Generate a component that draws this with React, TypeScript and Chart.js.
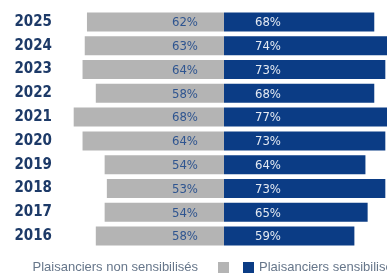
import React, { useEffect, useRef } from "react";
import { Chart, registerables } from "chart.js";

Chart.register(...registerables);

const years = ["2025", "2024", "2023", "2022", "2021", "2020", "2019", "2018", "2017", "2016"];
const nonSensibilises = [62, 63, 64, 58, 68, 64, 54, 53, 54, 58];
const sensibilises = [68, 74, 73, 68, 77, 73, 64, 73, 65, 59];
const legendLabels = ["Plaisanciers non sensibilisés", "Plaisanciers sensibilisés"];

const GRAY = "#b4b4b4";
const NAVY = "#0b3c85";
const FONT = "'DejaVu Sans Condensed', 'Liberation Sans Narrow', 'DejaVu Sans', sans-serif";

export default function App() {
  const ref = useRef<HTMLCanvasElement | null>(null);

  useEffect(() => {
    const canvas = ref.current;
    if (!canvas) return;

    const labelPlugin = {
      id: "barLabels",
      afterDatasetsDraw(chart: any) {
        const ctx = chart.ctx;
        ctx.save();
        ctx.font = `13px ${FONT}`;
        ctx.textBaseline = "middle";
        chart.data.datasets.forEach((ds: any, di: number) => {
          const meta = chart.getDatasetMeta(di);
          meta.data.forEach((el: any, i: number) => {
            const v = Math.abs(ds.data[i]);
            const base = el.base;
            if (di === 0) {
              ctx.fillStyle = "#2f5590";
              ctx.textAlign = "right";
              ctx.fillText(`${v}%`, base - 26, el.y + 1);
            } else {
              ctx.fillStyle = "#e3e9f2";
              ctx.textAlign = "left";
              ctx.fillText(`${v}%`, base + 31, el.y + 1);
            }
          });
        });
        ctx.restore();
      },
      afterDraw(chart: any) {
        const ctx = chart.ctx;
        ctx.save();
        ctx.font = `13px 'Liberation Sans', 'DejaVu Sans', sans-serif`;
        ctx.textBaseline = "middle";
        ctx.fillStyle = "#66768a";
        const y = 267;
        ctx.textAlign = "right";
        ctx.fillText(legendLabels[0], 198, y);
        ctx.fillStyle = GRAY;
        ctx.fillRect(218, y - 5, 11, 11);
        ctx.fillStyle = NAVY;
        ctx.fillRect(243, y - 5, 11, 11);
        ctx.fillStyle = "#66768a";
        ctx.textAlign = "left";
        ctx.fillText(legendLabels[1], 259, y);
        ctx.restore();
      },
    };

    const chart = new Chart(canvas, {
      type: "bar",
      data: {
        labels: years,
        datasets: [
          {
            label: legendLabels[0],
            data: nonSensibilises.map((v) => -v),
            backgroundColor: GRAY,
            barPercentage: 0.8,
            categoryPercentage: 1,
          },
          {
            label: legendLabels[1],
            data: sensibilises,
            backgroundColor: NAVY,
            barPercentage: 0.8,
            categoryPercentage: 1,
          },
        ],
      },
      options: {
        indexAxis: "y",
        animation: false,
        responsive: true,
        maintainAspectRatio: false,
        layout: { padding: { top: 10, bottom: 27, left: 0, right: 0 } },
        plugins: {
          legend: { display: false },
          tooltip: { enabled: false },
        },
        scales: {
          x: {
            display: false,
            stacked: true,
            min: -74.2,
            max: 73.76,
          },
          y: {
            stacked: true,
            grid: { display: false, drawTicks: false },
            border: { display: false },
            ticks: {
              color: "#1d3a68",
              padding: 8,
              font: { family: FONT, size: 15, weight: "bold" },
            },
            afterFit: (scale: any) => {
              scale.width = 60;
              scale.paddingTop = 0;
              scale.paddingBottom = 0;
            },
          },
        },
      },
      plugins: [labelPlugin],
    });

    return () => chart.destroy();
  }, []);

  return (
    <div style={{ position: "absolute", left: 0, top: 0, width: 387, height: 275, background: "#fff" }}>
      <canvas ref={ref} />
    </div>
  );
}
